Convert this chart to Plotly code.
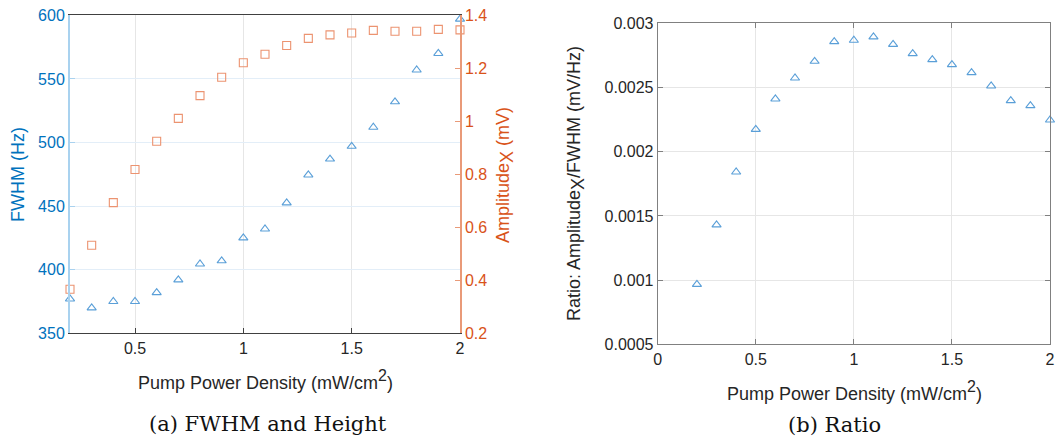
import plotly.graph_objects as go

# Pump power density (mW/cm^2)
power = [0.2, 0.3, 0.4, 0.5, 0.6, 0.7, 0.8, 0.9, 1.0, 1.1,
         1.2, 1.3, 1.4, 1.5, 1.6, 1.7, 1.8, 1.9, 2.0]

# Linewidth (Hz)
fwhm = [377, 370, 375, 375, 382, 392, 404.5, 407, 425, 432,
        452.5, 474.5, 487, 497, 512, 532, 557, 570, 597]

# Signal amplitude, X quadrature (mV)
amplitude = [0.366, 0.532, 0.693, 0.818, 0.925, 1.011, 1.097, 1.166, 1.221, 1.253,
             1.286, 1.313, 1.326, 1.333, 1.343, 1.340, 1.340, 1.347, 1.345]

# Amplitude / FWHM ratio (mV/Hz)
ratio = [0.000967, 0.00143, 0.001842, 0.002174, 0.002411, 0.002574, 0.002704, 0.002857,
         0.002868, 0.002894, 0.002836, 0.002764, 0.002717, 0.002678, 0.002616, 0.002512,
         0.002398, 0.002359, 0.002247]

left_xticks = [0.5, 1, 1.5, 2]
left_xtext = ["0.5", "1", "1.5", "2"]
fwhm_ticks = [350, 400, 450, 500, 550, 600]
amp_ticks = [0.2, 0.4, 0.6, 0.8, 1.0, 1.2, 1.4]
amp_text = ["0.2", "0.4", "0.6", "0.8", "1", "1.2", "1.4"]
right_xticks = [0, 0.5, 1, 1.5, 2]
right_xtext = ["0", "0.5", "1", "1.5", "2"]
ratio_ticks = [0.0005, 0.001, 0.0015, 0.002, 0.0025, 0.003]
ratio_text = ["0.0005", "0.001", "0.0015", "0.002", "0.0025", "0.003"]

W, H = 1063, 441
BLUE = "#0072BD"
ORANGE = "#D95319"
TRI = "#5a9fd8"
SQ = "#ec9370"
SANS = "Liberation Sans, Arial, sans-serif"
SERIF = "DejaVu Serif, serif"
TXT = "#262626"
GRID = "#e6e6e6"


def px(x):
    return x / W


def py(y):
    return 1 - y / H


def full_sub(s, size):
    return f"<sub><span style='font-size:{size}px'>{s}</span></sub>"


def full_sup(s, size):
    return f"<sup><span style='font-size:{size}px'>{s}</span></sup>"


fig = go.Figure()

fig.add_trace(go.Scatter(
    x=power, y=fwhm, mode="markers", xaxis="x", yaxis="y",
    marker=dict(symbol="triangle-up-open", size=8, color=TRI, line=dict(width=1.1)),
    cliponaxis=False, showlegend=False))

fig.add_trace(go.Scatter(
    x=power, y=amplitude, mode="markers", xaxis="x", yaxis="y2",
    marker=dict(symbol="square-open", size=8, color=SQ, line=dict(width=1.1)),
    cliponaxis=False, showlegend=False))

fig.add_trace(go.Scatter(
    x=power, y=ratio, mode="markers", xaxis="x2", yaxis="y3",
    marker=dict(symbol="triangle-up-open", size=8, color=TRI, line=dict(width=1.1)),
    cliponaxis=False, showlegend=False))

tickfont = dict(family=SANS, size=16, color=TXT)

fig.update_layout(
    width=W, height=H,
    margin=dict(l=0, r=0, t=0, b=0, autoexpand=False),
    paper_bgcolor="white", plot_bgcolor="white",
    xaxis=dict(
        domain=[px(70), px(460)], range=[0.2, 2], anchor="y",
        tickvals=left_xticks, ticktext=left_xtext, tickfont=tickfont,
        showgrid=True, gridcolor=GRID, gridwidth=1,
        showline=True, linecolor="#404040", linewidth=1, mirror=True,
        ticks="inside", ticklen=5, tickcolor="#404040", zeroline=False,
        automargin=False),
    yaxis=dict(
        domain=[py(333.3), py(15.3)], range=[350, 600], anchor="x",
        tickvals=fwhm_ticks, tickfont=dict(family=SANS, size=16, color=BLUE),
        showgrid=True, gridcolor="#e3eef8", gridwidth=1,
        showline=True, linecolor="#a9d2ef", linewidth=2,
        ticks="inside", ticklen=5, tickcolor="#a9d2ef", zeroline=False,
        automargin=False),
    yaxis2=dict(
        overlaying="y", side="right", anchor="x", range=[0.2, 1.4],
        tickvals=amp_ticks, ticktext=amp_text,
        tickfont=dict(family=SANS, size=16, color=ORANGE),
        showgrid=False, showline=True, linecolor="#e99a78", linewidth=1.5,
        ticks="inside", ticklen=5, tickcolor="#e99a78", zeroline=False,
        automargin=False),
    xaxis2=dict(
        domain=[px(657.7), px(1050)], range=[0, 2], anchor="y3",
        tickvals=right_xticks, ticktext=right_xtext, tickfont=tickfont,
        showgrid=True, gridcolor=GRID, gridwidth=1,
        showline=True, linecolor="#808080", linewidth=1, mirror="ticks",
        ticks="inside", ticklen=5, tickcolor="#808080", zeroline=False,
        automargin=False),
    yaxis3=dict(
        domain=[py(344.3), py(23.3)], range=[0.0005, 0.003], anchor="x2",
        tickvals=ratio_ticks, ticktext=ratio_text, tickfont=tickfont,
        showgrid=True, gridcolor=GRID, gridwidth=1,
        showline=True, linecolor="#808080", linewidth=1, mirror="ticks",
        ticks="inside", ticklen=5, tickcolor="#808080", zeroline=False,
        automargin=False),
)

annots = [
    dict(x=px(265), y=py(380), text="Pump Power Density (mW/cm" + full_sup("2", 16) + ")",
         font=dict(family=SANS, size=18, color=TXT)),
    dict(x=px(268), y=py(424), text="(a) FWHM and Height",
         font=dict(family=SERIF, size=21, color="#111111")),
    dict(x=px(18), y=py(175), text="FWHM (Hz)", textangle=-90,
         font=dict(family=SANS, size=18, color=BLUE)),
    dict(x=px(505), y=py(175), text="Amplitude" + full_sub("X", 18) + " (mV)", textangle=-90,
         font=dict(family=SANS, size=18, color=ORANGE)),
    dict(x=px(854), y=py(391), text="Pump Power Density (mW/cm" + full_sup("2", 16) + ")",
         font=dict(family=SANS, size=18, color=TXT)),
    dict(x=px(834), y=py(425), text="(b) Ratio",
         font=dict(family=SERIF, size=21, color="#111111")),
    dict(x=px(576), y=py(184), text="Ratio: Amplitude" + full_sub("X", 18) + "/FWHM (mV/Hz)",
         textangle=-90, font=dict(family=SANS, size=18, color=TXT)),
]
for a in annots:
    fig.add_annotation(xref="paper", yref="paper", showarrow=False,
                       xanchor="center", yanchor="middle", **a)

fig.write_html("out.html")
